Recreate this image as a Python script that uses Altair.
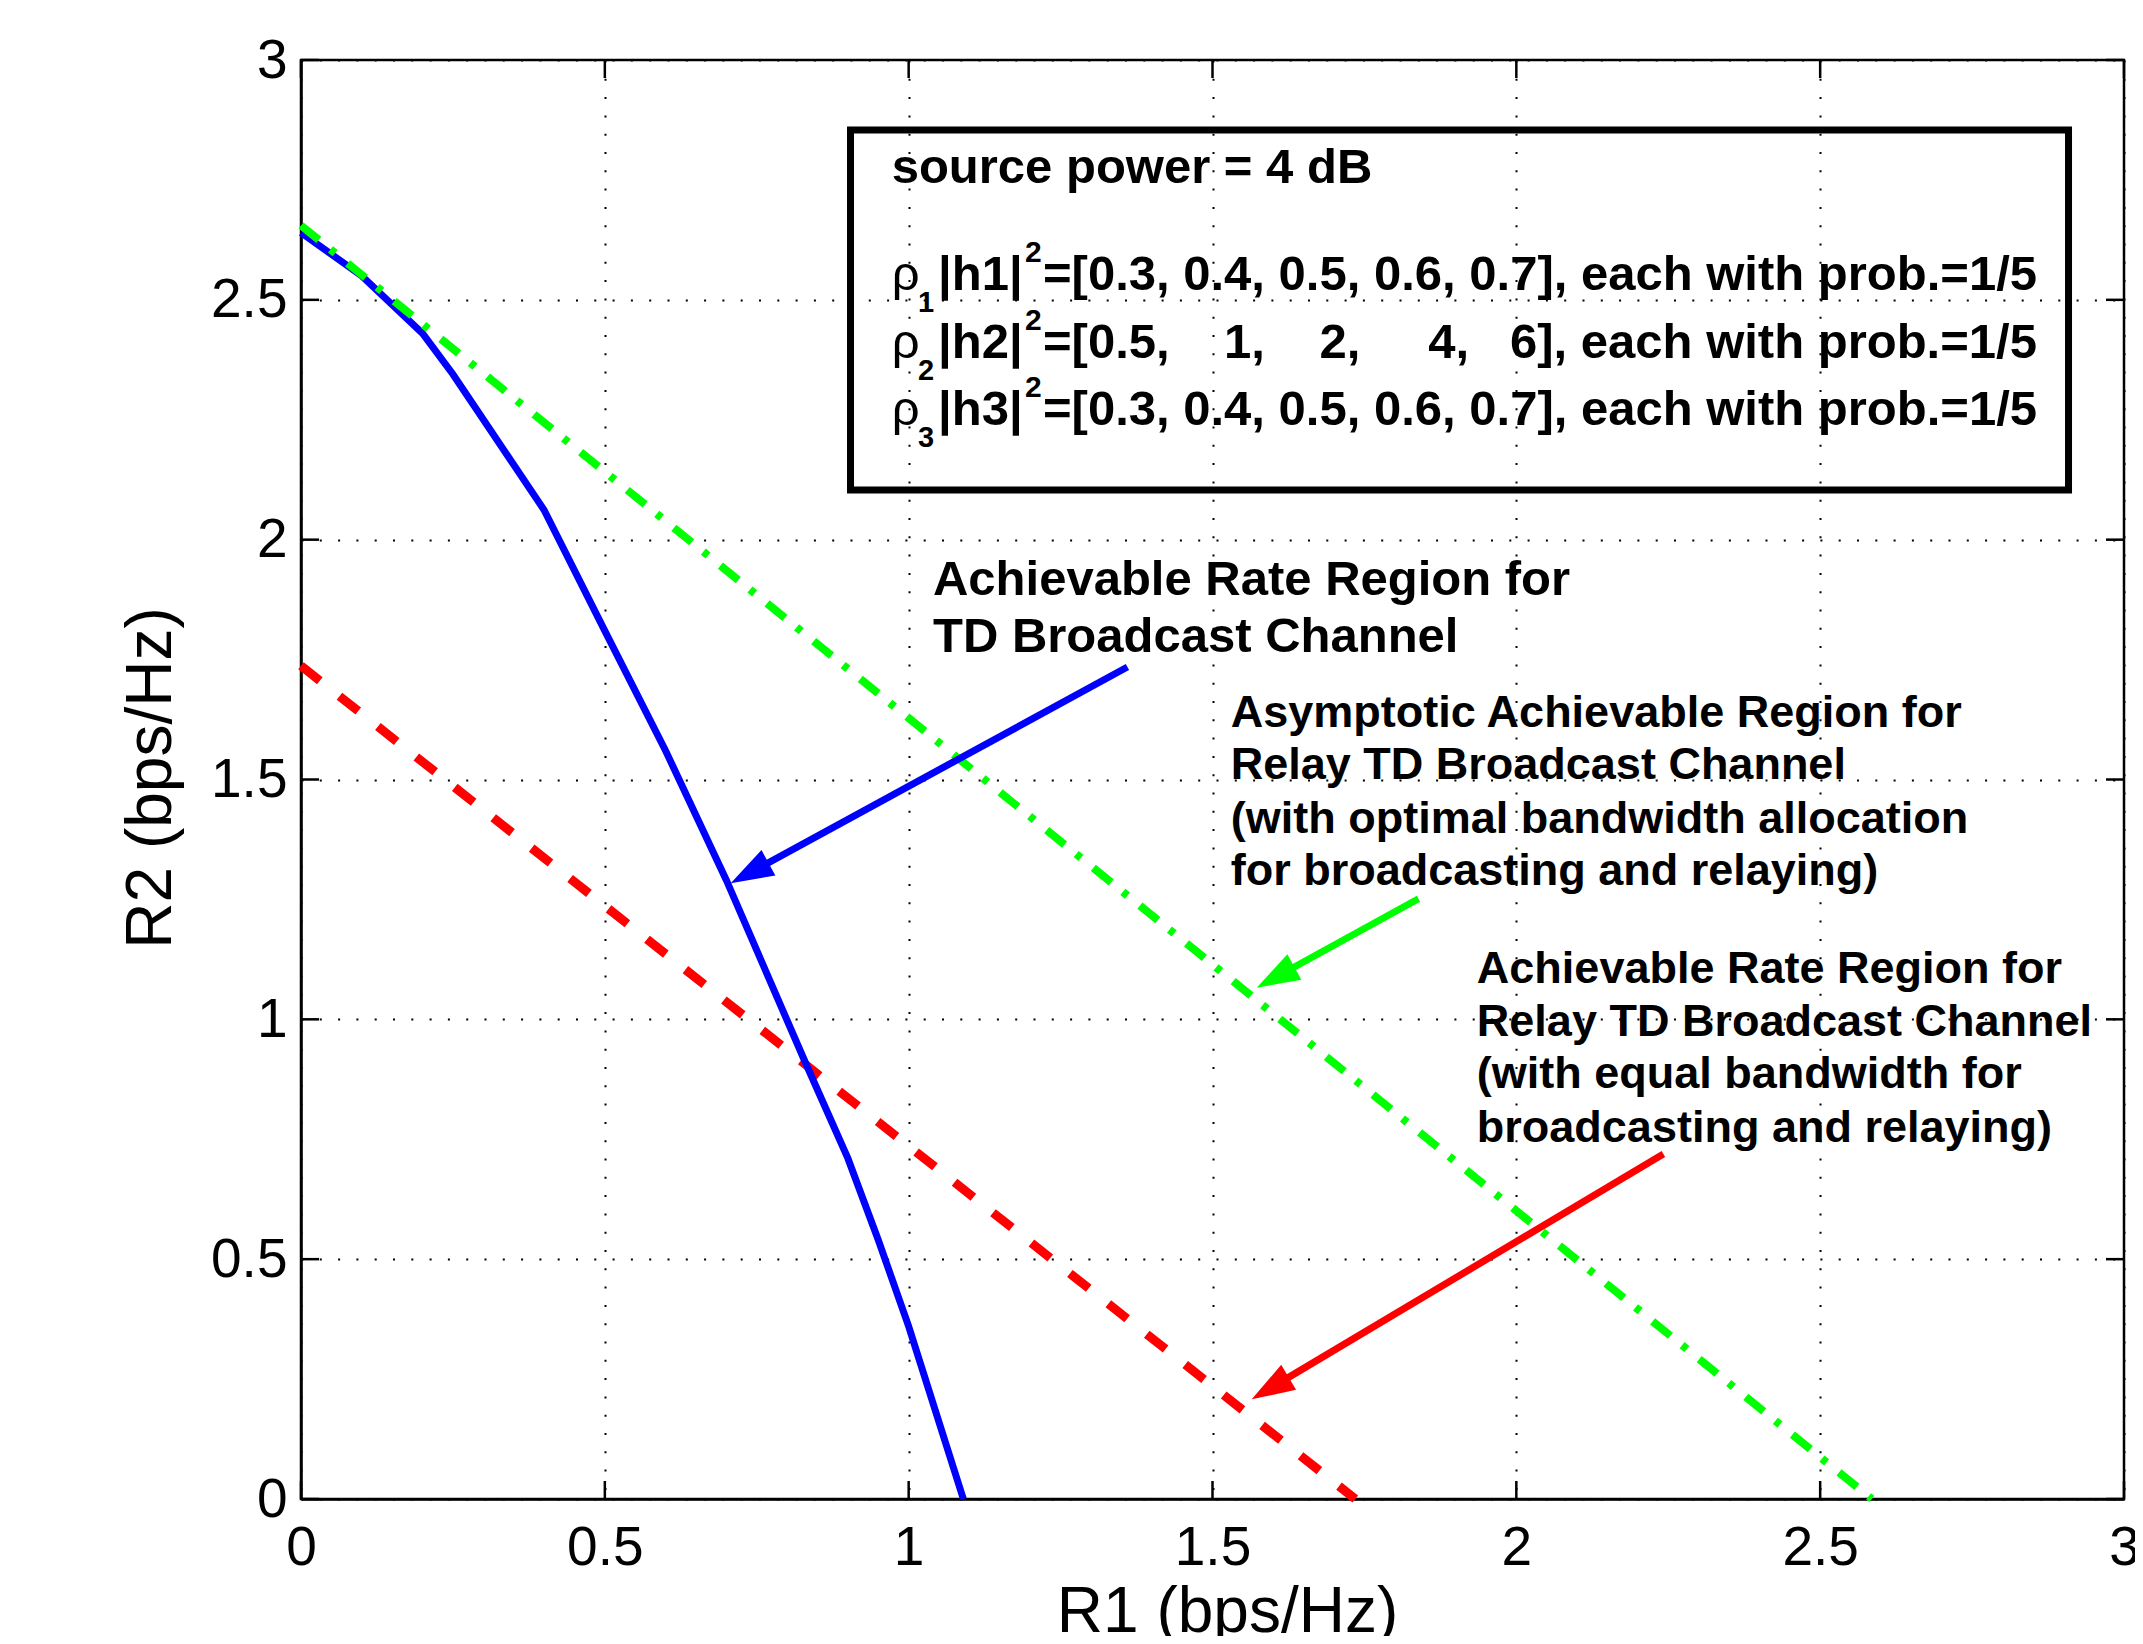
import math
import altair as alt
import pandas as pd

# ---------------- data ----------------
# TD broadcast channel rate region (blue, solid)
blue_r1 = [0.0, 0.10, 0.20, 0.25, 0.40, 0.50, 0.60, 0.70, 0.83, 0.90, 0.95, 1.00, 1.09]
blue_r2 = [2.64, 2.55, 2.43, 2.345, 2.062, 1.81, 1.56, 1.29, 0.91, 0.71, 0.54, 0.36, 0.0]
# Relay TD broadcast, equal bandwidth (red, dashed)
red_r1 = [0.0, 1.735]
red_r2 = [1.737, 0.0]
# Asymptotic region, optimal bandwidth (green, dash-dot)
green_r1 = [0.0, 2.585]
green_r2 = [2.655, 0.0]

x_ticks = [0, 0.5, 1, 1.5, 2, 2.5, 3]
y_ticks = [0, 0.5, 1, 1.5, 2, 2.5, 3]

x_title = "R1 (bps/Hz)"
y_title = "R2 (bps/Hz)"

# annotation texts (lines) and their anchor positions in data units
blue_text = ["Achievable Rate Region for", "TD Broadcast Channel"]
blue_text_r1 = [1.040, 1.040]
blue_text_r2 = [1.8855, 1.7662]

green_text = ["Asymptotic Achievable Region for", "Relay TD Broadcast Channel",
              "(with optimal bandwidth allocation", "for broadcasting and relaying)"]
green_text_r1 = [1.530, 1.530, 1.530, 1.530]
green_text_r2 = [1.6098, 1.5010, 1.3893, 1.2805]

red_text = ["Achievable Rate Region for", "Relay TD Broadcast Channel",
            "(with equal bandwidth for", "broadcasting and relaying)"]
red_text_r1 = [1.935, 1.935, 1.935, 1.935]
red_text_r2 = [1.0757, 0.9659, 0.8560, 0.7443]

# arrows: tail -> tip
arrow_colors = ["#0000ff", "#00ff00", "#ff0000"]
arrow_tail_r1 = [1.360, 1.839, 2.242]
arrow_tail_r2 = [1.7345, 1.2515, 0.7192]
arrow_tip_r1 = [0.7071, 1.5727, 1.5645]
arrow_tip_r2 = [1.2836, 1.0660, 0.2078]

# info box
box_r1 = [0.9043, 2.9087]
box_r2 = [2.8540, 2.1035]
box_title = "source power = 4 dB"
box_title_r1 = 0.972
box_title_r2 = 2.7436
rho_r1 = 0.972
sub_r1 = 1.0154
hmid_r1 = 1.0483
sup_r1 = 1.1914
rest_r1 = 1.2210
box_line_r2 = [2.5205, 2.3787, 2.2390]
rho_labels = ["\u03c1", "\u03c1", "\u03c1"]
sub_labels = ["1", "2", "3"]
h_labels = ["|h1|", "|h2|", "|h3|"]
sup_labels = ["2", "2", "2"]
NB = "\u00a0"
rest_labels = [
    "=[0.3, 0.4, 0.5, 0.6, 0.7], each with prob.=1/5",
    "=[0.5," + NB * 4 + "1," + NB * 4 + "2," + NB * 5 + "4," + NB * 3 + "6], each with prob.=1/5",
    "=[0.3, 0.4, 0.5, 0.6, 0.7], each with prob.=1/5",
]

# ---------------- layout / style ----------------
W, H = 1823, 1439
FONT = "Liberation Sans"
TICK = 18
px_x = W / 3.0
px_y = H / 3.0

xs = alt.Scale(domain=[0, 3], nice=False, zero=False)
ys = alt.Scale(domain=[0, 3], nice=False, zero=False)

x_axis = alt.Axis(values=x_ticks, format="~g", title=x_title, labelPadding=22,
                  labelFlush=False, labelOverlap=False,
                  titleX=926, titleY=132, titleAlign="center",
                  titleBaseline="alphabetic")
y_axis = alt.Axis(values=y_ticks, format="~g", title=y_title, labelPadding=14,
                  labelFlush=False, labelOverlap=False,
                  titleX=-131, titleY=717.5, titleAlign="center",
                  titleBaseline="alphabetic")

X = alt.X("R1:Q", scale=xs, axis=x_axis)
Y = alt.Y("R2:Q", scale=ys, axis=y_axis)
Xp = alt.X("R1:Q", scale=xs)
Yp = alt.Y("R2:Q", scale=ys)

df_blue = pd.DataFrame({"R1": blue_r1, "R2": blue_r2})
df_red = pd.DataFrame({"R1": red_r1, "R2": red_r2})
df_green = pd.DataFrame({"R1": green_r1, "R2": green_r2})

red_layer = alt.Chart(df_red).mark_line(color="#ff0000", strokeWidth=9, strokeDash=[24, 25],
                                        strokeCap="butt").encode(x=X, y=Y)
blue_layer = alt.Chart(df_blue).mark_line(color="#0000ff", strokeWidth=7).encode(x=Xp, y=Yp)
green_layer = alt.Chart(df_green).mark_line(color="#00ff00", strokeWidth=8,
                                            strokeDash=[23, 15, 6, 16],
                                            strokeCap="butt").encode(x=Xp, y=Yp)

# box
df_box = pd.DataFrame({"R1": [box_r1[0]], "R1b": [box_r1[1]], "R2": [box_r2[0]], "R2b": [box_r2[1]]})
box_layer = alt.Chart(df_box).mark_rect(fill="white", fillOpacity=0, stroke="black",
                                        strokeWidth=7).encode(
    x=Xp, x2="R1b:Q", y=Yp, y2="R2b:Q")


def text_layer(labels, r1, r2, size, weight="bold", dy=0):
    df = pd.DataFrame({"R1": r1, "R2": r2, "label": labels})
    return alt.Chart(df).mark_text(align="left", baseline="alphabetic", font=FONT,
                                   fontSize=size, fontWeight=weight, color="black",
                                   dy=dy).encode(x=Xp, y=Yp, text="label:N")


texts = [
    text_layer(blue_text, blue_text_r1, blue_text_r2, 49),
    text_layer(green_text, green_text_r1, green_text_r2, 45),
    text_layer(red_text, red_text_r1, red_text_r2, 45),
    text_layer([box_title], [box_title_r1], [box_title_r2], 49),
    text_layer(rho_labels, [rho_r1] * 3, box_line_r2, 49, weight="normal"),
    text_layer(sub_labels, [sub_r1] * 3, box_line_r2, 29, dy=22),
    text_layer(h_labels, [hmid_r1] * 3, box_line_r2, 49),
    text_layer(sup_labels, [sup_r1] * 3, box_line_r2, 30, dy=-28),
    text_layer(rest_labels, [rest_r1] * 3, box_line_r2, 49),
]

# arrows
shaft_rows = []
head_rows = []
HEAD_LEN = 43.0
for i, c in enumerate(arrow_colors):
    tx, ty = arrow_tail_r1[i], arrow_tail_r2[i]
    hx, hy = arrow_tip_r1[i], arrow_tip_r2[i]
    dxp = (hx - tx) * px_x
    dyp = -(hy - ty) * px_y
    length = math.hypot(dxp, dyp)
    frac = (HEAD_LEN * 0.6) / length
    ex = hx + (tx - hx) * frac
    ey = hy + (ty - hy) * frac
    shaft_rows.append({"R1": tx, "R2": ty, "arrow": c})
    shaft_rows.append({"R1": ex, "R2": ey, "arrow": c})
    ang = math.degrees(math.atan2(dxp, -dyp)) % 360
    head_rows.append({"R1": hx, "R2": hy, "arrow": c, "ang": ang})

df_shaft = pd.DataFrame(shaft_rows)
df_head = pd.DataFrame(head_rows)
color_scale = alt.Scale(domain=arrow_colors, range=arrow_colors)
shaft_layer = alt.Chart(df_shaft).mark_line(strokeWidth=7, strokeCap="butt").encode(
    x=Xp, y=Yp, detail="arrow:N",
    color=alt.Color("arrow:N", scale=color_scale, legend=None))
head_layer = alt.Chart(df_head).mark_point(
    shape="M0,0 L0.674,2 L-0.674,2 Z", size=1849, filled=True, opacity=1, strokeWidth=0
).encode(x=Xp, y=Yp, angle=alt.Angle("ang:Q", scale=None),
         color=alt.Color("arrow:N", scale=color_scale, legend=None))

# inward ticks on all four sides
df_xt = pd.DataFrame({"R1": x_ticks})
df_yt = pd.DataFrame({"R2": y_ticks})
tick_style = dict(color="black", strokeWidth=2.5)
ticks_bottom = alt.Chart(df_xt).mark_rule(**tick_style).encode(
    x=Xp, y=alt.value(H), y2=alt.value(H - TICK))
ticks_top = alt.Chart(df_xt).mark_rule(**tick_style).encode(
    x=Xp, y=alt.value(0), y2=alt.value(TICK))
ticks_left = alt.Chart(df_yt).mark_rule(**tick_style).encode(
    y=Yp, x=alt.value(0), x2=alt.value(TICK))
ticks_right = alt.Chart(df_yt).mark_rule(**tick_style).encode(
    y=Yp, x=alt.value(W), x2=alt.value(W - TICK))

chart = alt.layer(
    red_layer, blue_layer, green_layer, box_layer, *texts,
    shaft_layer, head_layer,
    ticks_bottom, ticks_top, ticks_left, ticks_right,
).properties(
    width=W, height=H,
    autosize=alt.AutoSizeParams(type="none"),
    padding={"left": 293, "top": 52, "right": 11, "bottom": 137},
    background="white",
).configure_axis(
    grid=True, gridColor="black", gridDash=[2, 16.3], gridWidth=2, gridOpacity=1,
    domainColor="black", domainWidth=2.5, ticks=False,
    labelFont=FONT, labelFontSize=55, labelColor="black",
    titleFont=FONT, titleFontSize=64, titleFontWeight="normal", titleColor="black",
).configure_view(stroke="black", strokeWidth=2.5)

chart.save("out.html", embed_options={"renderer": "svg", "actions": False})
